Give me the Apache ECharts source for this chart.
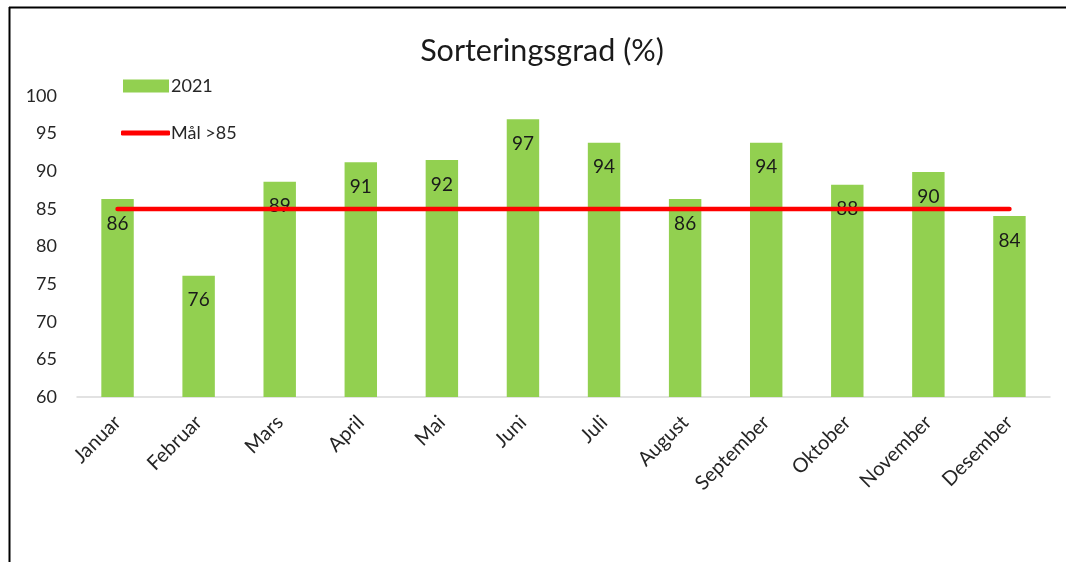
<!DOCTYPE html>
<html>
<head>
<meta charset="utf-8">
<script src="https://cdn.jsdelivr.net/npm/echarts@6/dist/echarts.min.js"></script>
<style>
html,body{margin:0;padding:0;background:#fff;}
#chart{width:1066px;height:562px;}
</style>
</head>
<body>
<div id="chart"></div>
<script>
const months = ['Januar','Februar','Mars','April','Mai','Juni','Juli','August','September','Oktober','November','Desember'];
const values2021 = [86.3, 76.1, 88.6, 91.2, 91.5, 96.9, 93.8, 86.3, 93.8, 88.2, 89.9, 84.05];
const goal = [85, 85, 85, 85, 85, 85, 85, 85, 85, 85, 85, 85];
const yTicks = {min: 60, max: 100, interval: 5};

const FONT = 'Lato';
const TXT = '#262626';
const chart = echarts.init(document.getElementById('chart'));
chart.setOption({
  animation: false,
  textStyle: {fontFamily: FONT},
  title: {
    text: 'Sorteringsgrad (%)',
    left: 537, top: 31, textAlign: 'center',
    textStyle: {fontFamily: FONT, fontSize: 30.5, fontWeight: 'normal', color: '#1a1a1a'}
  },
  legend: [
    {
      left: 118, top: 72, itemWidth: 46, itemHeight: 13, icon: 'rect',
      textStyle: {fontFamily: FONT, fontSize: 18, color: TXT, padding: [0,0,0,-3]},
      data: ['2021']
    },
    {
      left: 116, top: 119, itemWidth: 49, itemHeight: 5, icon: 'roundRect',
      textStyle: {fontFamily: FONT, fontSize: 18, color: TXT, padding: [0,0,0,-4]},
      data: ['Mål >85']
    }
  ],
  grid: {left: 77, right: 16, top: 96, bottom: 165},
  xAxis: {
    type: 'category', data: months,
    axisLine: {lineStyle: {color: '#d9d9d9', width: 1.5}},
    axisTick: {show: false},
    axisLabel: {rotate: 45, fontFamily: FONT, fontSize: 20, color: TXT, margin: 22}
  },
  yAxis: {
    type: 'value', min: yTicks.min, max: yTicks.max, interval: yTicks.interval,
    axisLine: {show: false}, axisTick: {show: false}, splitLine: {show: false},
    axisLabel: {fontFamily: FONT, fontSize: 18, color: TXT, margin: 20}
  },
  series: [
    {
      name: '2021', type: 'bar', data: values2021, barWidth: '40%',
      itemStyle: {color: '#92D050'},
      label: {
        show: true, position: 'insideTop', distance: 15,
        fontFamily: FONT, fontSize: 19, color: '#1a1a1a',
        formatter: p => Math.round(p.value)
      },
      z: 2
    },
    {
      name: 'Mål >85', type: 'line', data: goal, symbol: 'none',
      lineStyle: {color: '#FF0000', width: 4.5, cap: 'round'},
      itemStyle: {color: '#FF0000'},
      z: 3
    }
  ],
  graphic: [
    {type: 'line', shape: {x1: 9.5, y1: 7, x2: 9.5, y2: 562}, style: {stroke: '#000', lineWidth: 2}},
    {type: 'line', shape: {x1: 9, y1: 7.5, x2: 1066, y2: 7.5}, style: {stroke: '#000', lineWidth: 2}}
  ]
});
</script>
</body>
</html>
